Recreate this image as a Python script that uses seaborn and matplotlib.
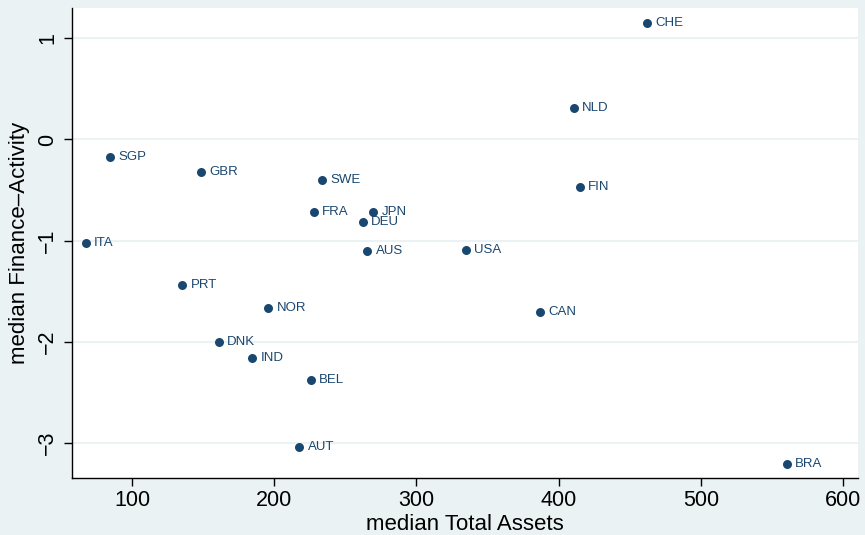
import matplotlib
matplotlib.use("Agg")
import matplotlib.pyplot as plt
import seaborn as sns
import pandas as pd

countries = ["CHE", "NLD", "FIN", "USA", "CAN", "BRA", "SGP", "GBR", "SWE", "FRA",
             "JPN", "DEU", "AUS", "ITA", "PRT", "NOR", "DNK", "IND", "BEL", "AUT"]
total_assets = [462.4, 410.6, 414.8, 334.9, 386.7, 560.6, 84.5, 148.7, 233.8, 228.0,
                269.7, 262.2, 265.5, 67.6, 135.4, 195.9, 161.0, 184.6, 225.9, 217.7]
finance_activity = [1.154, 0.308, -0.474, -1.096, -1.709, -3.205, -0.174, -0.322, -0.405, -0.717,
                    -0.717, -0.813, -1.103, -1.027, -1.439, -1.666, -2.000, -2.164, -2.375, -3.036]
x_ticks = [100, 200, 300, 400, 500, 600]
y_ticks = [-3, -2, -1, 0, 1]

df = pd.DataFrame({"country": countries, "assets": total_assets, "fa": finance_activity})

sns.set_theme(style="white")
plt.rcParams["font.family"] = ["Liberation Sans", "DejaVu Sans"]

bg = "#EAF2F3"
navy = "#1a476f"

fig = plt.figure(figsize=(8.65, 5.35), dpi=100, facecolor=bg)
ax = fig.add_axes([71.5 / 865, 1 - 478 / 535, (858 - 71.5) / 865, (478 - 7.5) / 535])
ax.set_facecolor("white")

sns.scatterplot(data=df, x="assets", y="fa", ax=ax, color=navy, s=42,
                edgecolor=navy, linewidth=0, zorder=3)
for _, r in df.iterrows():
    ax.annotate(r["country"], (r["assets"], r["fa"]), xytext=(6, 0),
                textcoords="offset points", va="center", ha="left",
                fontsize=9.5, color=navy, zorder=4)

ax.set_xlim(57.5, 610.5)
ax.set_ylim(-3.346, 1.304)
ax.set_xticks(x_ticks)
ax.set_yticks(y_ticks)
ax.yaxis.grid(True, color=bg, linewidth=1.5, zorder=0)
ax.xaxis.grid(False)
ax.set_axisbelow(True)

for side in ["top", "right"]:
    ax.spines[side].set_visible(False)
for side in ["left", "bottom"]:
    ax.spines[side].set_color("black")
    ax.spines[side].set_linewidth(1.0)

ax.tick_params(axis="both", direction="out", length=5.5, width=1, color="black",
               labelsize=15.5, labelcolor="black", left=True, bottom=True)
ax.tick_params(axis="x", pad=3)
ax.tick_params(axis="y", pad=4)
for lab in ax.get_yticklabels():
    lab.set_rotation(90)
    lab.set_va("center")

ax.set_xlabel("median Total Assets", fontsize=16, color="black")
ax.set_ylabel("median Finance–Activity", fontsize=16, color="black")
ax.yaxis.set_label_coords(-(71.5 - 30) / 786.5, 0.5)
ax.xaxis.set_label_coords(0.5, -(525 - 478) / 470.5)
ax.xaxis.label.set_va("center")

fig.savefig("out.png", dpi=100, facecolor=bg)
